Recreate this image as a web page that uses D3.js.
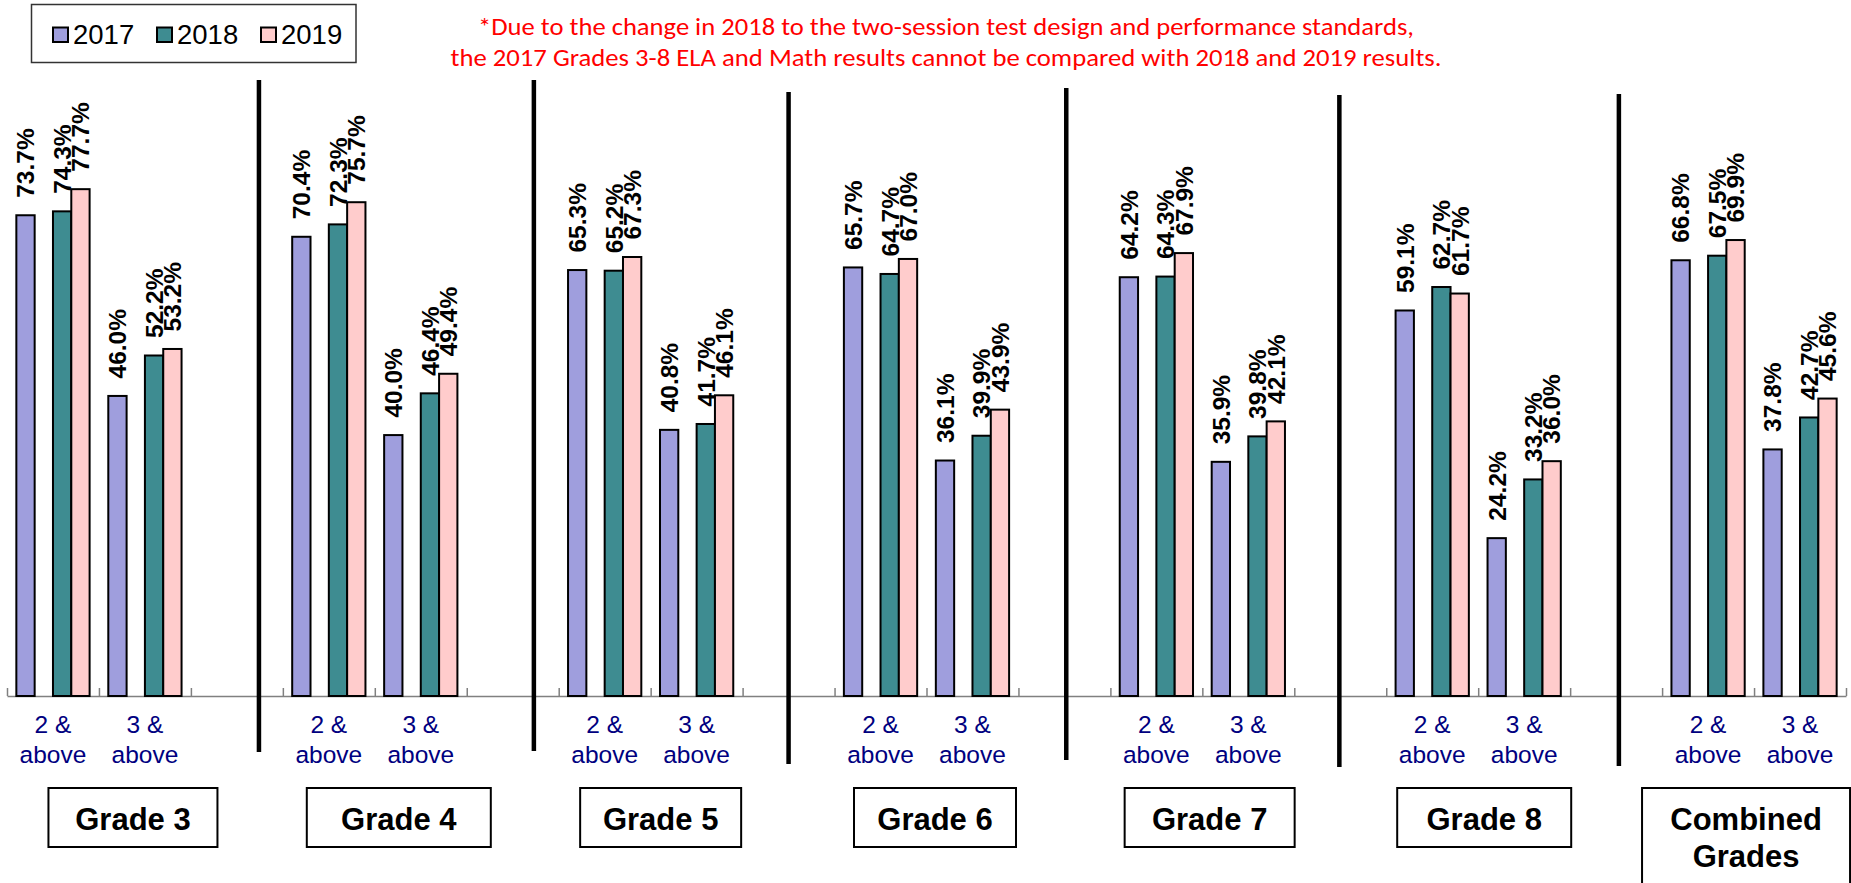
<!DOCTYPE html>
<html>
<head>
<meta charset="utf-8">
<script src="https://cdn.jsdelivr.net/npm/d3@7/dist/d3.min.js"></script>
<style>
  html, body { margin: 0; padding: 0; background: #fff; }
  svg { display: block; }
</style>
</head>
<body>
<svg id="chart" width="1851" height="883"></svg>
<script>
// ---------------- DATA ----------------
const grades = ["Grade 3", "Grade 4", "Grade 5", "Grade 6", "Grade 7", "Grade 8", "Combined Grades"];
const levels = ["2 & above", "3 & above"];
const seriesNames = ["2017", "2018", "2019"];
// values[grade][level]
const values2017 = [[73.7, 46.0], [70.4, 40.0], [65.3, 40.8], [65.7, 36.1], [64.2, 35.9], [59.1, 24.2], [66.8, 37.8]];
const values2018 = [[74.3, 52.2], [72.3, 46.4], [65.2, 41.7], [64.7, 39.9], [64.3, 39.8], [62.7, 33.2], [67.5, 42.7]];
const values2019 = [[77.7, 53.2], [75.7, 49.4], [67.3, 46.1], [67.0, 43.9], [67.9, 42.1], [61.7, 36.0], [69.9, 45.6]];
const noteLines = [
  "*Due to the change in 2018 to the two-session test design and performance standards,",
  "the 2017 Grades 3-8 ELA and Math results cannot be compared with 2018 and 2019 results."
];

// ---------------- LAYOUT / STYLE ----------------
const colors = { "2017": "#9f9edd", "2018": "#3e8c91", "2019": "#ffcccc" };
const W = 1851, H = 883;
const svg = d3.select("#chart");
svg.append("rect").attr("width", W).attr("height", H).attr("fill", "#fff");

const nSlots = grades.length * 3 - 1;       // 2 categories + 1 spacer per grade
const x0 = d3.scaleBand().domain(d3.range(nSlots)).range([7, 1846]).paddingInner(0).paddingOuter(0);
const x1 = d3.scaleBand().domain(["2017", "_gap", "2018", "2019"]).range([0, x0.bandwidth()]).paddingInner(0).paddingOuter(0.51);
const y = d3.scaleLinear().domain([0, 100]).range([696, 43.7]);
const bnd = d3.scaleLinear().domain([0, nSlots]).range(x0.range());

// separator offsets within spacer slot (fraction), and their vertical extents
const sepFrac = [0.74, 0.73, 0.50, 0.52, 0.49, 0.53];
const sepTop = [80, 80, 92, 88, 95, 94];
const sepBot = [752, 751, 764, 760, 767, 766];
// grade box: centre offset from the group's centre and box width
const boxOff = [34, 24, 10, 8.5, 7.3, 6, -8];
const boxW = [169, 184, 161, 162, 170, 174, 208];

// ---------------- NOTE ----------------
svg.append("g").selectAll("text").data(noteLines).join("text")
  .attr("x", 946).attr("y", (d, i) => [35, 66][i])
  .attr("text-anchor", "middle")
  .attr("font-family", "Carlito, Calibri, Lato, 'Open Sans', sans-serif")
  .attr("font-size", 25)
  .attr("fill", "#ff0000")
  .attr("textLength", (d, i) => [936, 991][i])
  .attr("lengthAdjust", "spacingAndGlyphs")
  .text(d => d);

// ---------------- LEGEND ----------------
const leg = svg.append("g");
leg.append("rect").attr("x", 31.5).attr("y", 4.5).attr("width", 324.5).attr("height", 58)
  .attr("fill", "#fff").attr("stroke", "#333").attr("stroke-width", 1.5);
const legX = [53, 157, 261];
seriesNames.forEach((s, i) => {
  leg.append("rect").attr("x", legX[i]).attr("y", 27.5).attr("width", 15).attr("height", 14.5)
    .attr("fill", colors[s]).attr("stroke", "#000").attr("stroke-width", 2);
  leg.append("text").attr("x", legX[i] + 20).attr("y", 43.5)
    .attr("font-family", "'Liberation Sans', Arial, sans-serif").attr("font-size", 27.5)
    .attr("fill", "#000").text(s);
});

// ---------------- AXIS ----------------
const axis = d3.axisTop(bnd).tickValues(d3.range(nSlots + 1)).tickSize(8).tickSizeOuter(0).tickFormat("");
const ag = svg.append("g").attr("transform", `translate(0,${y(0)})`).call(axis);
ag.selectAll("path, line").attr("stroke", "#808080").attr("stroke-width", 1.5);

// ---------------- BARS ----------------
const allVals = { "2017": values2017, "2018": values2018, "2019": values2019 };
const barData = [];
grades.forEach((g, gi) => {
  levels.forEach((l, li) => {
    seriesNames.forEach(s => {
      barData.push({ gi, li, s, v: allVals[s][gi][li], slot: gi * 3 + li });
    });
  });
});

const bars = svg.append("g");
bars.selectAll("rect").data(barData).join("rect")
  .attr("x", d => x0(d.slot) + x1(d.s))
  .attr("y", d => y(d.v))
  .attr("width", x1.bandwidth())
  .attr("height", d => y(0) - y(d.v))
  .attr("fill", d => colors[d.s])
  .attr("stroke", "#000").attr("stroke-width", 2);

// value labels
svg.append("g").selectAll("text").data(barData).join("text")
  .attr("transform", d => {
    const cx = x0(d.slot) + x1(d.s) + x1.bandwidth() / 2;
    return `translate(${cx},${y(d.v) - 17.5}) rotate(-90)`;
  })
  .attr("dy", "0.36em")
  .attr("font-family", "'Liberation Sans', Arial, sans-serif")
  .attr("font-weight", "bold").attr("font-size", 24.5)
  .attr("fill", "#000")
  .text(d => d.v.toFixed(1) + "%");

// category labels
const catData = [];
grades.forEach((g, gi) => levels.forEach((l, li) => catData.push({ slot: gi * 3 + li, l })));
const cat = svg.append("g").selectAll("text").data(catData).join("text")
  .attr("text-anchor", "middle")
  .attr("font-family", "'Liberation Sans', Arial, sans-serif").attr("font-size", 24.5)
  .attr("fill", "#000080");
cat.each(function (d) {
  const cx = x0(d.slot) + x0.bandwidth() / 2;
  const parts = d.l.split(" & ");
  d3.select(this).append("tspan").attr("x", cx).attr("y", 733).text(parts[0] + " &");
  d3.select(this).append("tspan").attr("x", cx).attr("y", 763).text(parts[1]);
});

// separators
svg.append("g").selectAll("line").data(sepFrac).join("line")
  .attr("x1", (d, i) => x0(i * 3 + 2) + d * x0.bandwidth())
  .attr("x2", (d, i) => x0(i * 3 + 2) + d * x0.bandwidth())
  .attr("y1", (d, i) => sepTop[i]).attr("y2", (d, i) => sepBot[i])
  .attr("stroke", "#000").attr("stroke-width", 4.5);

// grade boxes
const gb = svg.append("g");
grades.forEach((g, gi) => {
  const c = (x0(gi * 3) + x0(gi * 3 + 1) + x0.bandwidth()) / 2 + boxOff[gi];
  const w = boxW[gi];
  const lines = g === "Combined Grades" ? ["Combined", "Grades"] : [g];
  gb.append("rect").attr("x", c - w / 2).attr("y", 788).attr("width", w)
    .attr("height", lines.length > 1 ? 120 : 59)
    .attr("fill", "#fff").attr("stroke", "#000").attr("stroke-width", 2);
  lines.forEach((t, k) => {
    gb.append("text").attr("x", c).attr("y", 829.5 + k * 37.5)
      .attr("text-anchor", "middle")
      .attr("font-family", "'Liberation Sans', Arial, sans-serif")
      .attr("font-weight", "bold").attr("font-size", 31)
      .attr("fill", "#000").text(t);
  });
});
</script>
</body>
</html>
